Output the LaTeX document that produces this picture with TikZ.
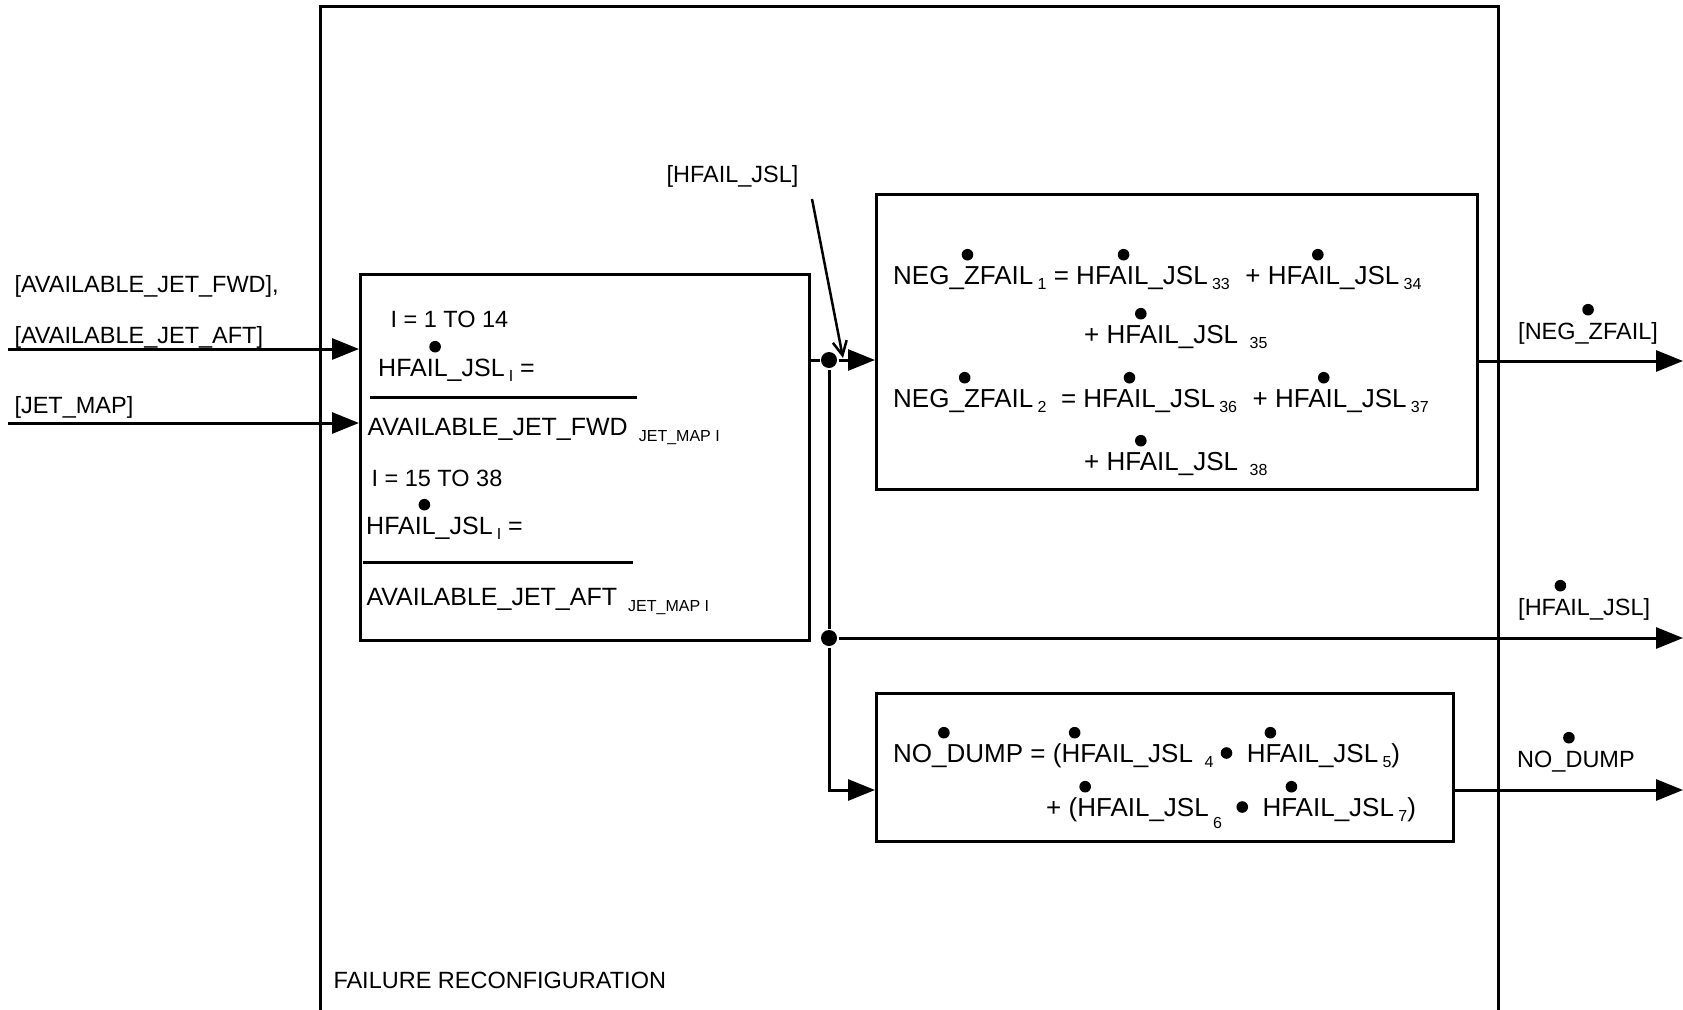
\documentclass[tikz,border=0pt]{standalone}
\usepackage{fontspec}
\setmainfont{Liberation Sans}
\usetikzlibrary{arrows.meta,positioning}
% dot over a word: optional argument is the horizontal place of the dot
\newlength\dotwd
\newcommand\bigdot{\tikz[baseline={(0pt,0pt)}]\fill (0pt,5.8pt) circle[radius=5.8pt];}
\newcommand\dotover[2][0.4]{\settowidth\dotwd{#2}\smash{\rlap{\hspace*{#1\dotwd}\raisebox{23.5pt}{\makebox[0pt]{\bigdot}}}}#2}
\newcommand\andbullet{\smash{\raisebox{3.2pt}{\bigdot}}}
\newcommand\idxsz{14}
\newcommand\lowidx[2][5pt]{\,\smash{\raisebox{-#1}{\fontsize{\idxsz}{\idxsz}\selectfont #2}}}
\tikzset{
  calc block/.style={
    rectangle, draw, line width=3pt, inner sep=0pt,
    anchor=north west
  },
  sig label/.style={
    inner sep=0pt, anchor=base west,
    font=\fontsize{23.5}{28}\selectfont
  },
  box line/.style={sig label, font=\fontsize{25}{30}\selectfont\renewcommand\idxsz{16}},
  eq line/.style={sig label, font=\fontsize{26}{30}\selectfont\renewcommand\idxsz{16}},
  flow arrow/.style={-{Triangle[length=27pt,width=21pt]}, line width=3pt},
  feed arrow/.style={-{Straight Barb[length=14pt,width=14pt]}, line width=2.5pt},
  junction dot/.style={circle, fill, inner sep=0pt, minimum size=16pt}
}

\begin{document}
\begin{tikzpicture}[x=1pt, y=-1pt, line width=3pt]
    \useasboundingbox (0,0) rectangle (1683,1009);

    % outer block, open at the bottom
    \draw (320,1012) |- (1498,6) -- (1498,1012);
    \node[sig label] (blockname) at (332,988) {FAILURE RECONFIGURATION};

    % blocks
    \node[calc block, minimum width=449pt, minimum height=366pt] (calcbox) at (359,273) {};
    \node[calc block, minimum width=601pt, minimum height=295pt] (negbox) at (875,193) {};
    \node[calc block, minimum width=577pt, minimum height=148pt] (dumpbox) at (875,692) {};

    % inputs
    \node[sig label] (fwdlabel) at (13,292) {[AVAILABLE\_JET\_FWD],};
    \node[sig label] (aftlabel) at (13,343) {[AVAILABLE\_JET\_AFT]};
    \node[sig label] (maplabel) at (13,413) {[JET\_MAP]};
    \coordinate (jetin) at (8,349);
    \coordinate (mapin) at (8,423);
    \draw[flow arrow] (jetin) -- (jetin -| calcbox.west);
    \draw[flow arrow] (mapin) -- (mapin -| calcbox.west);

    % left block text
    \node[sig label] (rangeone) at (389,327) {I = 1 TO 14};
    \node[box line] (fwdnum) at (378,376) {\dotover[0.45]{HFAIL\_JSL}\lowidx{I} =};
    \draw (370,397) -- (637,397);
    \node[box line] (fwdden) at (366,435) {AVAILABLE\_JET\_FWD\ \lowidx[6pt]{JET\_MAP I}};
    \node[sig label] (rangetwo) at (370,486) {I = 15 TO 38};
    \node[box line] (aftnum) at (366,534) {\dotover[0.46]{HFAIL\_JSL}\lowidx{I} =};
    \draw (363,562) -- (633,562);
    \node[box line] (aftden) at (365,605) {AVAILABLE\_JET\_AFT\ \lowidx[6pt]{JET\_MAP I}};

    % upper right block text
    \node[eq line] (negone) at (893,284) {\dotover[0.53]{NEG\_ZFAIL}\lowidx{1}\ = \dotover[0.36]{HFAIL\_JSL}\lowidx{33}\hspace{0.6em}+ \dotover[0.38]{HFAIL\_JSL}\lowidx{34}};
    \node[eq line] (negonemore) at (1084,343) {+ \dotover[0.26]{HFAIL\_JSL}\ \lowidx{35}};
    \node[eq line] (negtwo) at (893,407) {\dotover[0.51]{NEG\_ZFAIL}\lowidx{2}\ \ = \dotover[0.35]{HFAIL\_JSL}\lowidx{36}\hspace{0.6em}+ \dotover[0.37]{HFAIL\_JSL}\lowidx{37}};
    \node[eq line] (negtwomore) at (1084,470) {+ \dotover[0.26]{HFAIL\_JSL}\ \lowidx{38}};

    % lower right block text
    \node[eq line] (dumpone) at (893,762) {\dotover[0.39]{NO\_DUMP} = (\dotover[0.1]{HFAIL\_JSL}\ \lowidx{4}\ \andbullet\ \ \dotover[0.18]{HFAIL\_JSL}\lowidx{5})};
    \node[eq line] (dumptwo) at (1046,816) {+ (\dotover[0.06]{HFAIL\_JSL}\lowidx[12pt]{6}\ \ \andbullet\ \ \dotover[0.22]{HFAIL\_JSL}\lowidx{7})};

    % feedback input
    \node[sig label] (hfailin) at (665,182) {[HFAIL\_JSL]};
    \coordinate (hfailsrc) at (812,199);
    \coordinate (hfailtip) at (843,358);
    \draw[feed arrow] (hfailsrc) -- (hfailtip);

    % split of the rates
    \node[junction dot] (splitup) at (829,360) {};
    \node[junction dot] (splitlow) at (829,638) {};
    \coordinate (dumpin) at (875,790);
    \draw (calcbox.east |- splitup) -- (splitup);
    \draw[flow arrow] (splitup) -- (splitup -| negbox.west);
    \draw (splitup) -- (splitlow);
    \draw[flow arrow] (splitlow) |- (dumpin);

    % outputs
    \coordinate (negout) at (1683,361);
    \coordinate (hfailout) at (1683,638);
    \coordinate (dumpout) at (1683,790);
    \draw[flow arrow] (negout -| negbox.east) -- (negout);
    \draw[flow arrow] (splitlow) -- (hfailout);
    \draw[flow arrow] (dumpout -| dumpbox.east) -- (dumpout);
    \node[sig label] (neglabel) at (1518,339) {[\dotover[0.5]{NEG\_ZFAIL}]};
    \node[sig label] (hfaillabel) at (1518,615) {[\dotover[0.3]{HFAIL\_JSL}]};
    \node[sig label] (dumplabel) at (1517,767) {\dotover[0.44]{NO\_DUMP}};
\end{tikzpicture}
\end{document}
